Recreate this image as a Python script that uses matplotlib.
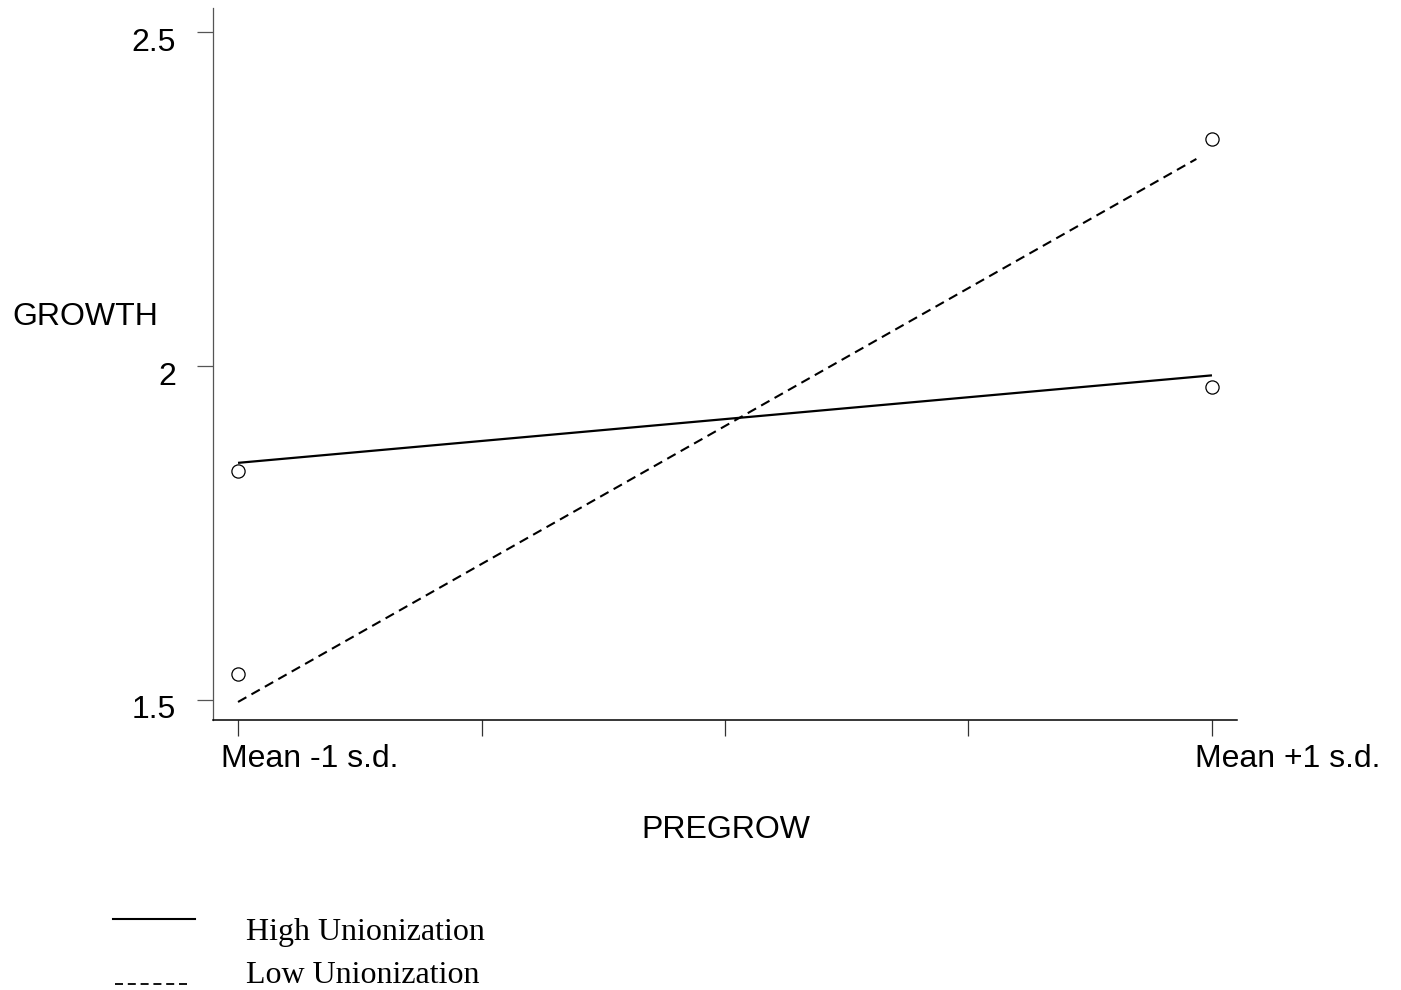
import matplotlib
matplotlib.use("Agg")
import matplotlib.pyplot as plt
import matplotlib.transforms as mtransforms
from matplotlib.lines import Line2D

# data
x_fit = [0.0, 1.0]
x_fit_low = [0.0, 0.984]
high_fit = [1.855, 1.986]
low_fit = [1.497, 2.310]
x_obs = [0.0, 1.0]
high_obs = [1.843, 1.969]
low_obs = [1.539, 2.340]
xtick_pos = [0.0, 0.25, 0.5, 0.75, 1.0]
xtick_labels = ['Mean -1 s.d.', '', '', '', 'Mean +1 s.d.']
ytick_pos = [1.5, 2.0, 2.5]
ytick_labels = ['1.5', '2', '2.5']
series_names = ['High Unionization', 'Low Unionization']

plt.rcParams['font.family'] = ['Liberation Sans', 'DejaVu Sans']

fig = plt.figure(figsize=(14.01, 9.9), dpi=100)
ax = fig.add_axes([213 / 1401, 1 - 720 / 990, 1024 / 1401, 712 / 990])

# regression lines
ax.plot(x_fit, high_fit, color='black', lw=1.6, solid_capstyle='butt')
ax.plot(x_fit_low, low_fit, color='black', lw=1.5, linestyle=(0, (4.6, 2.8)))

# observed means
ax.plot(x_obs, high_obs, 'o', mfc='white', mec='black', mew=0.9, ms=9.5)
ax.plot(x_obs, low_obs, 'o', mfc='white', mec='black', mew=0.9, ms=9.5)

ax.set_xlim(-0.0257, 1.0257)
ax.set_ylim(1.470, 2.536)

ax.spines['top'].set_visible(False)
ax.spines['right'].set_visible(False)
ax.spines['left'].set_color('#555555')
ax.spines['left'].set_linewidth(0.9)
ax.spines['bottom'].set_linewidth(1.1)

ax.set_xticks(xtick_pos)
ax.set_xticklabels(xtick_labels, fontsize=23, ha='left')
ax.set_yticks(ytick_pos)
ax.set_yticklabels(ytick_labels, fontsize=23)
ax.tick_params(axis='x', length=11.5, width=0.9, pad=5.5, color='#333333')
ax.tick_params(axis='y', length=11.5, width=0.9, pad=15, color='#555555')

# shift tick labels the way the original renders them
xoff = mtransforms.ScaledTranslation(-0.17, 0, fig.dpi_scale_trans)
for lbl in ax.get_xticklabels():
    lbl.set_transform(lbl.get_transform() + xoff)
yoff = mtransforms.ScaledTranslation(0, -0.07, fig.dpi_scale_trans)
for lbl in ax.get_yticklabels():
    lbl.set_transform(lbl.get_transform() + yoff)

ax.set_ylabel('GROWTH', rotation=0, fontsize=23, ha='left', va='center')
ax.yaxis.set_label_coords(-0.196, 0.566)
ax.set_xlabel('PREGROW', fontsize=23, ha='center', va='center')
ax.xaxis.set_label_coords(0.501, -0.155)

# legend below the plot
fig.add_artist(Line2D([113 / 1401, 195 / 1401], [1 - 919 / 990] * 2,
                      color='black', lw=1.5, transform=fig.transFigure))
fig.add_artist(Line2D([115 / 1401, 188 / 1401], [1 - 984 / 990] * 2,
                      color='black', lw=1.3, linestyle=(0, (4.43, 2.66)),
                      transform=fig.transFigure))
fig.text(246 / 1401, 1 - 940 / 990, series_names[0], fontsize=23,
         family=['Liberation Serif', 'DejaVu Serif'], va='baseline')
fig.text(246 / 1401, 1 - 983 / 990, series_names[1], fontsize=23,
         family=['Liberation Serif', 'DejaVu Serif'], va='baseline')

fig.savefig('out.png', dpi=100)
